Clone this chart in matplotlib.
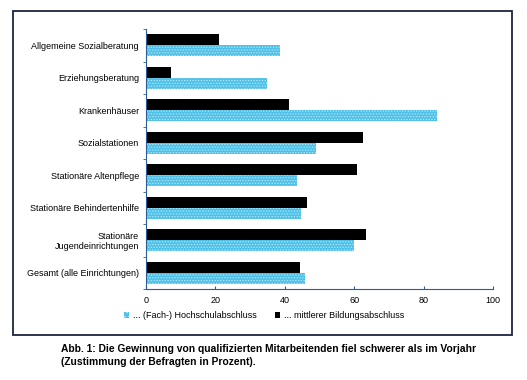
import numpy as np
import matplotlib
matplotlib.use("Agg")
import matplotlib.pyplot as plt
from matplotlib.patches import Rectangle, Patch

plt.rcParams['font.family'] = ['Liberation Sans', 'DejaVu Sans']
plt.rcParams['hatch.linewidth'] = 0.6

# Daten (Zustimmung in Prozent)
categories = [
    "Allgemeine Sozialberatung",
    "Erziehungsberatung",
    "Krankenhäuser",
    "Sozialstationen",
    "Stationäre Altenpflege",
    "Stationäre Behindertenhilfe",
    "Stationäre\nJugendeinrichtungen",
    "Gesamt (alle Einrichtungen)",
]
hochschule = [38.6, 34.8, 84.0, 49.0, 43.4, 44.6, 60.0, 45.9]
mittlerer = [21.0, 7.3, 41.1, 62.4, 60.7, 46.5, 63.4, 44.4]
xticks = [0, 20, 40, 60, 80, 100]
label_hoch = "... (Fach-) Hochschulabschluss"
label_mittel = "... mittlerer Bildungsabschluss"
caption = ("Abb. 1: Die Gewinnung von qualifizierten Mitarbeitenden fiel schwerer als im Vorjahr\n"
           "(Zustimmung der Befragten in Prozent).")

blue = '#4fc1e8'
blue_dots = '#b5e6f7'
axis_col = '#2a5d96'

fig = plt.figure(figsize=(5.27, 3.80), dpi=100)
ax = fig.add_axes([146 / 527, 1 - 289 / 380, (493 - 146) / 527, (289 - 29) / 380])

y = np.arange(len(categories))
h = 0.34
ax.barh(y - h / 2, mittlerer, height=h, color='black', linewidth=0)
ax.barh(y + h / 2, hochschule, height=h, color=blue, edgecolor=blue_dots,
        hatch='......', linewidth=0)

ax.set_xlim(0, 100)
ax.set_ylim(len(categories) - 0.5, -0.5)
ax.set_xticks(xticks)
ax.set_xticklabels([str(t) for t in xticks], fontsize=6.5)
ax.set_yticks(y)
ax.set_yticklabels(categories, fontsize=6.5, linespacing=1.1)
ax.set_yticks(np.arange(len(categories) + 1) - 0.5, minor=True)
ax.tick_params(axis='y', which='major', length=0, pad=5)
ax.tick_params(axis='y', which='minor', length=2, color=axis_col, direction='out')
ax.tick_params(axis='x', length=2, direction='in', color=axis_col, pad=5)
for s in ['top', 'right']:
    ax.spines[s].set_visible(False)
for s in ['left', 'bottom']:
    ax.spines[s].set_color(axis_col)
    ax.spines[s].set_linewidth(0.8)

handles = [Patch(facecolor=blue, edgecolor=blue_dots, hatch='....', linewidth=0, label=label_hoch),
           Patch(facecolor='black', linewidth=0, label=label_mittel)]
fig.legend(handles=handles, loc='center', bbox_to_anchor=(264 / 527, 1 - 316 / 380),
           ncol=2, frameon=False, fontsize=6.5, handlelength=0.6, handleheight=0.6,
           handletextpad=0.4, columnspacing=2.0)

# Rahmen
fig.patches.append(Rectangle((13 / 527, 1 - 335 / 380), (512 - 13) / 527, (335 - 11) / 380,
                             transform=fig.transFigure, fill=False,
                             edgecolor='#1c2440', linewidth=1.3))

fig.text(61 / 527, 1 - 344 / 380, caption, fontsize=7.4, fontweight='bold',
         va='top', ha='left', linespacing=1.35)

fig.savefig("out.png", dpi=100)
